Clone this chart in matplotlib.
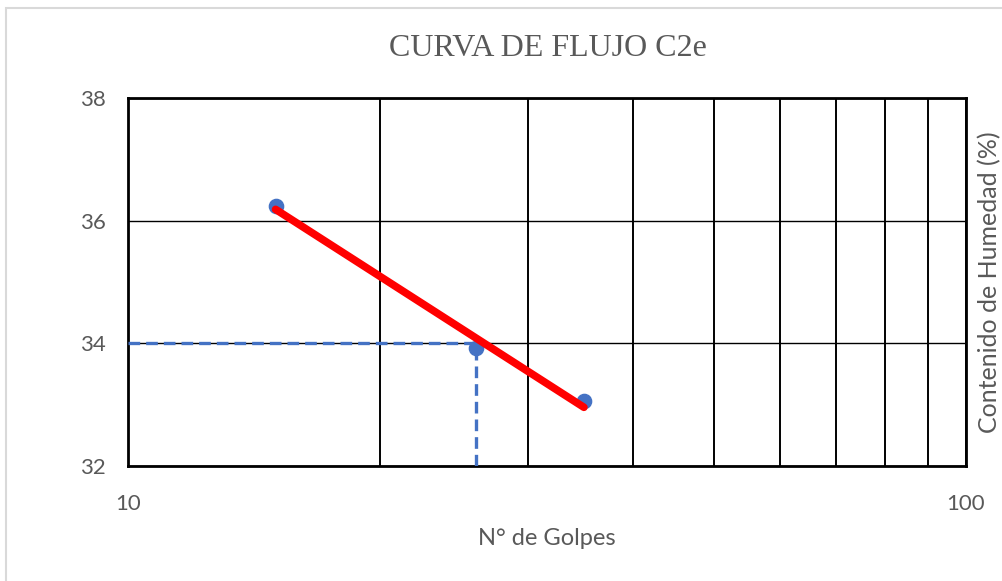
import matplotlib
matplotlib.use("Agg")
import matplotlib.pyplot as plt
from matplotlib.patches import Rectangle
import numpy as np

# data
golpes = [15, 26, 35]
humedad = [36.24, 33.93, 33.06]

# guide lines to the 25-blow style reading
guide_x = [10, 26, 26]
guide_y = [34, 34, 32]

x_ticks = [10, 100]
y_ticks = [32, 34, 36, 38]

TEXT_GRAY = "#595959"

fig = plt.figure(figsize=(10.03, 5.81), dpi=100)
ax = fig.add_axes([128 / 1003, 115 / 581, 838 / 1003, 368 / 581])

# light chart-area border (only left and top are visible in the crop)
fig.patches.append(Rectangle((6 / 1003, -0.1), 1.2, (581 - 8) / 581 + 0.1,
                             transform=fig.transFigure, fill=False,
                             edgecolor="#d9d9d9", linewidth=1.5))

ax.set_xscale("log")
ax.set_xlim(10, 100)
ax.set_ylim(32, 38)

ax.grid(True, which="both", axis="x", color="black", linewidth=1.4)
ax.grid(True, which="major", axis="y", color="black", linewidth=1.0)
ax.set_axisbelow(True)

ax.plot(guide_x, guide_y, color="#4472c4", linestyle=(0, (3.5, 1.8)),
        linewidth=2.4, zorder=3)

# log trend line (Excel-style) through the measured points
coef = np.polyfit(np.log10(golpes), humedad, 1)
trend_x = np.array([min(golpes), max(golpes)])
trend_y = np.polyval(coef, np.log10(trend_x))

ax.scatter(golpes, humedad, s=105, color="#4472c4", zorder=4)
ax.plot(trend_x, trend_y, color="#ff0000", linewidth=5.5,
        solid_capstyle="round", zorder=5)

ax.set_xticks(x_ticks)
ax.set_xticklabels([str(t) for t in x_ticks])
ax.xaxis.set_minor_formatter(plt.NullFormatter())
ax.set_yticks(y_ticks)
ax.tick_params(axis="both", which="both", length=0, labelsize=16,
               labelcolor=TEXT_GRAY)
ax.tick_params(axis="x", pad=20)
ax.tick_params(axis="y", pad=16)
for lab in ax.get_xticklabels() + ax.get_yticklabels():
    lab.set_fontfamily("Lato")

for side in ax.spines.values():
    side.set_linewidth(2.0)
    side.set_color("black")

ax.set_xlabel("N° de Golpes", fontsize=17, color=TEXT_GRAY,
              fontfamily="Lato", labelpad=10)
ax.yaxis.set_label_position("right")
ax.set_ylabel("Contenido de Humedad (%)", fontsize=18, color=TEXT_GRAY,
              fontfamily="Lato", labelpad=9)

fig.text(548 / 1003, 1 - 48 / 581, "CURVA DE FLUJO C2e", ha="center",
         va="center", fontsize=23, color=TEXT_GRAY,
         fontfamily="Liberation Serif")

fig.savefig("out.png", dpi=100)
